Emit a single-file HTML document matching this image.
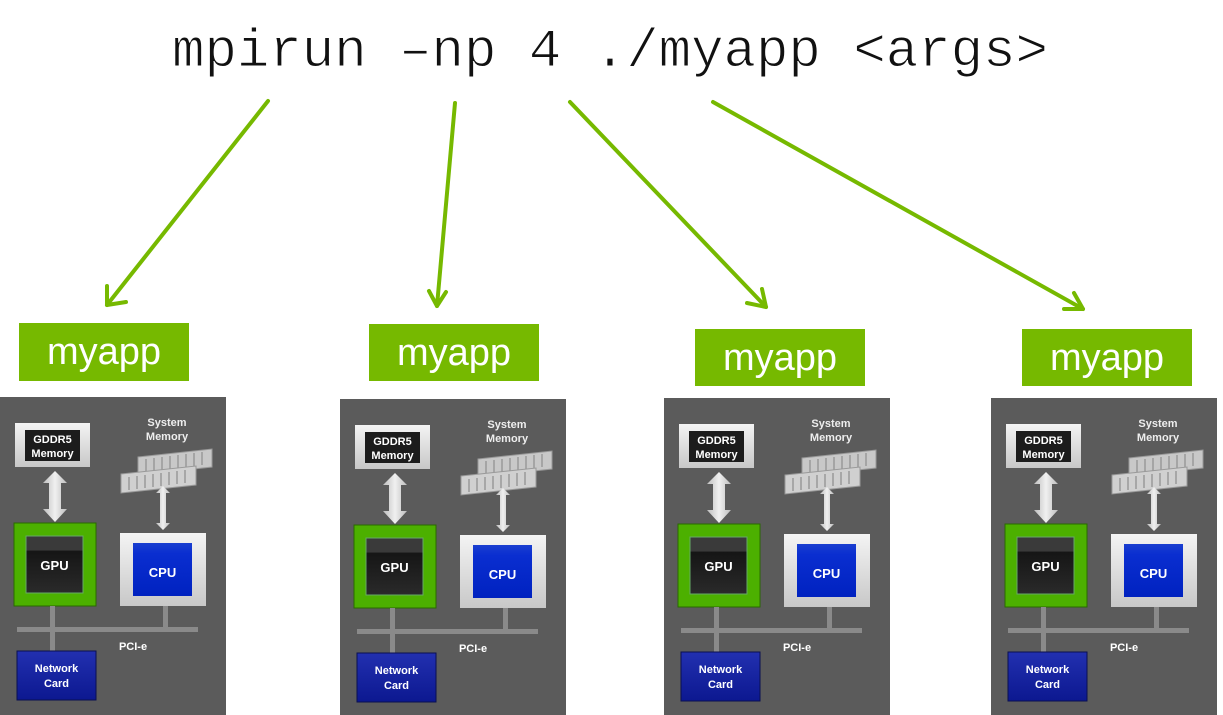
<!DOCTYPE html>
<html><head><meta charset="utf-8"><style>
html,body{margin:0;padding:0;background:#fff;width:1223px;height:715px;overflow:hidden}
</style></head><body>
<svg width="1223" height="715" viewBox="0 0 1223 715" xmlns="http://www.w3.org/2000/svg" font-family="Liberation Sans, DejaVu Sans, sans-serif">
<defs>
<linearGradient id="gw" x1="0" y1="0" x2="0" y2="1"><stop offset="0" stop-color="#f4f4f4"/><stop offset="1" stop-color="#c8c8c8"/></linearGradient>
<linearGradient id="gk" x1="0" y1="0" x2="0" y2="1"><stop offset="0" stop-color="#3a3a3a"/><stop offset="0.25" stop-color="#3a3a3a"/><stop offset="0.26" stop-color="#151515"/><stop offset="1" stop-color="#2a2a2a"/></linearGradient>
<linearGradient id="gb" x1="0" y1="0" x2="0" y2="1"><stop offset="0" stop-color="#1a3fd0"/><stop offset="0.2" stop-color="#0a2ed0"/><stop offset="1" stop-color="#0022c0"/></linearGradient>
<linearGradient id="gn" x1="0" y1="0" x2="0" y2="1"><stop offset="0" stop-color="#2230b0"/><stop offset="1" stop-color="#0c1890"/></linearGradient>
<linearGradient id="ga" x1="0" y1="0" x2="1" y2="0"><stop offset="0" stop-color="#bdbdbd"/><stop offset="0.5" stop-color="#f0f0f0"/><stop offset="1" stop-color="#bdbdbd"/></linearGradient>
<g id="panel">
<rect x="0" y="0" width="226" height="320" fill="#5b5b5b"/>
<rect x="15" y="26" width="75" height="44" fill="url(#gw)"/>
<rect x="25" y="33" width="55" height="31" fill="#1c1c1c"/>
<text x="52.5" y="46" font-size="11" font-weight="bold" fill="#fff" text-anchor="middle">GDDR5</text>
<text x="52.5" y="60" font-size="11" font-weight="bold" fill="#fff" text-anchor="middle">Memory</text>
<polygon points="55,74 67,86 61,86 61,112 67,112 55,125 43,112 49,112 49,86 43,86" fill="url(#ga)"/>
<text x="167" y="29" font-size="11" font-weight="bold" fill="#eee" text-anchor="middle">System</text>
<text x="167" y="43" font-size="11" font-weight="bold" fill="#eee" text-anchor="middle">Memory</text>
<polygon points="138,60 212,52 212,70 138,78" fill="#c8c8c8" stroke="#999" stroke-width="1"/>
<path d="M146,62v13M154,61v13M162,60v13M170,59v13M178,58v13M186,57v13M194,56v13M202,55v13" stroke="#999" stroke-width="1.5"/>
<polygon points="121,77 196,69 196,88 121,96" fill="#d0d0d0" stroke="#999" stroke-width="1"/>
<path d="M129,80v13M137,79v13M145,78v13M153,77v13M161,76v13M169,75v13M177,74v13M185,73v13" stroke="#999" stroke-width="1.5"/>
<polygon points="163,89 170,96 166,96 166,126 170,126 163,133 156,126 160,126 160,96 156,96" fill="url(#ga)"/>
<rect x="14" y="126" width="82" height="83" fill="#4cb000" stroke="#2a6a00" stroke-width="1"/>
<rect x="26" y="139" width="57" height="57" fill="url(#gk)" stroke="#6a6" stroke-width="1"/>
<text x="54.5" y="173" font-size="13" font-weight="bold" fill="#fff" text-anchor="middle">GPU</text>
<rect x="120" y="136" width="86" height="73" fill="url(#gw)"/>
<rect x="133" y="146" width="59" height="53" fill="url(#gb)"/>
<text x="162.5" y="180" font-size="13" font-weight="bold" fill="#fff" text-anchor="middle">CPU</text>
<rect x="50" y="209" width="5" height="45" fill="#8a8a8a"/>
<rect x="163" y="209" width="5" height="24" fill="#8a8a8a"/>
<rect x="17" y="230" width="181" height="5" fill="#8a8a8a"/>
<text x="133" y="253" font-size="11" font-weight="bold" fill="#fff" text-anchor="middle">PCI-e</text>
<rect x="17" y="254" width="79" height="49" fill="url(#gn)" stroke="#0a0f50" stroke-width="1"/>
<text x="56.5" y="275" font-size="11" font-weight="bold" fill="#fff" text-anchor="middle">Network</text>
<text x="56.5" y="290" font-size="11" font-weight="bold" fill="#fff" text-anchor="middle">Card</text>
</g>
</defs>
<text x="172" y="66" font-family="Liberation Mono, monospace" font-size="54" fill="#111" stroke="#fff" stroke-width="1" textLength="876" lengthAdjust="spacingAndGlyphs">mpirun –np 4 ./myapp &lt;args&gt;</text>
<g stroke="#76b900" stroke-width="4" fill="none" stroke-linecap="round" stroke-linejoin="round">
<line x1="268" y1="101" x2="107" y2="305"/><polyline points="107,286 107,305 126,302"/>
<line x1="455" y1="103" x2="437" y2="306"/><polyline points="429,291 437,306 446,292"/>
<line x1="570" y1="102" x2="766" y2="307"/><polyline points="747,303 766,307 762,289"/>
<line x1="713" y1="102" x2="1083" y2="309"/><polyline points="1064,309 1083,309 1074,293"/>
</g>
<g fill="#76b900">
<rect x="19" y="323" width="170" height="58"/>
<rect x="369" y="324" width="170" height="57"/>
<rect x="695" y="329" width="170" height="57"/>
<rect x="1022" y="329" width="170" height="57"/>
</g>
<g font-size="38" fill="#fff" text-anchor="middle" font-family="Liberation Sans, sans-serif">
<text x="104" y="364">myapp</text>
<text x="454" y="365">myapp</text>
<text x="780" y="370">myapp</text>
<text x="1107" y="370">myapp</text>
</g>
<use href="#panel" x="0" y="397"/>
<use href="#panel" x="340" y="399"/>
<use href="#panel" x="664" y="398"/>
<use href="#panel" x="991" y="398"/>
</svg>
</body></html>
